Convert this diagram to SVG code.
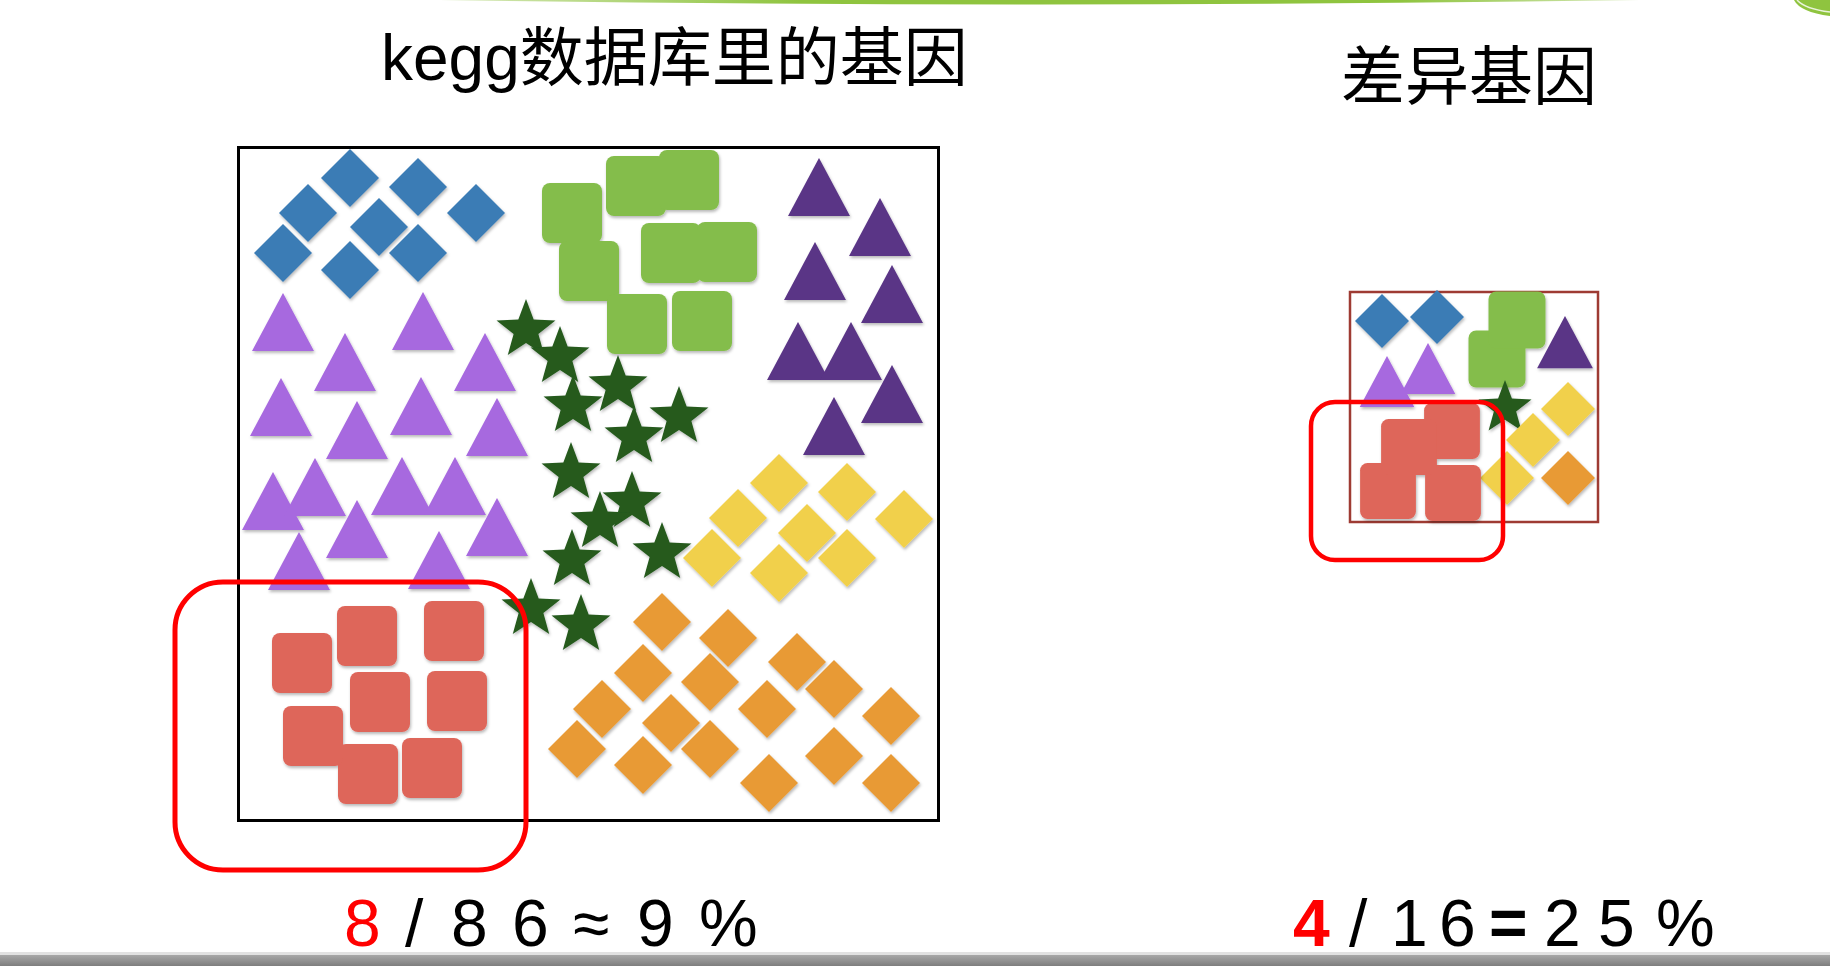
<svg xmlns="http://www.w3.org/2000/svg" xmlns:xlink="http://www.w3.org/1999/xlink" width="1830" height="966" viewBox="0 0 1830 966">
<defs>
<style>
.t{font-family:"Liberation Sans","Noto Sans CJK SC",sans-serif;fill:#000}
.blue{fill:#3b7bb5}.green{fill:#84bd4b}.dp{fill:#5a3486}.lp{fill:#a769df}
.star{fill:#255a1e}.yel{fill:#f1d04b}.ora{fill:#e89a36}.red{fill:#de665a}
.sh{filter:url(#sh)}
</style>
<filter id="sh" x="-20%" y="-20%" width="140%" height="140%">
<feDropShadow dx="1" dy="2" stdDeviation="1.4" flood-color="#000" flood-opacity="0.28"/>
</filter>
<linearGradient id="gb" x1="0" y1="0" x2="0" y2="1"><stop offset="0" stop-color="#a8a8a8"/><stop offset="1" stop-color="#7e7e7e"/></linearGradient>
<linearGradient id="gg" x1="0" y1="0" x2="1" y2="0"><stop offset="0" stop-color="#d6e8b8"/><stop offset="0.3" stop-color="#8fc43f"/><stop offset="0.8" stop-color="#8fc43f"/><stop offset="1" stop-color="#d6e8b8"/></linearGradient>
<polygon id="dia" points="0,-29 29,0 0,29 -29,0"/>
<polygon id="tri" points="0,0 31,58 -31,58"/>
<rect id="sq" x="-30" y="-30" width="60" height="60" rx="8"/>
<polygon id="st" points="0,-31 7.66,-10.53 29.48,-9.58 12.38,4.02 18.22,25.08 0,13.02 -18.22,25.08 -12.38,4.02 -29.48,-9.58 -7.66,-10.53"/>
</defs>
<rect width="1830" height="966" fill="#fff"/>
<g id="decor">
<path d="M440,0 Q1040,9 1640,0 Z" fill="url(#gg)"/>
<path d="M1794,0 Q1800,12 1830,16 L1830,0 Z" fill="#8fc43f"/>
<path d="M1797,0 Q1805,9 1830,12" fill="none" stroke="#e9f3da" stroke-width="1.5"/>
<rect x="0" y="952" width="1830" height="3" fill="#e2e2e2"/>
<rect x="0" y="955" width="1830" height="11" fill="url(#gb)"/>
</g>
<g id="titles">
<text class="t" x="381" y="80" font-size="64">kegg数据库里的基因</text>
<text class="t" x="1341" y="99" font-size="64">差异基因</text>
</g>
<g id="kegg-set">
<rect x="238.5" y="147.5" width="700" height="673" fill="#fff" stroke="#000" stroke-width="3"/>
<g id="blue" class="blue sh">
<use xlink:href="#dia" x="350" y="178"/><use xlink:href="#dia" x="418" y="187"/>
<use xlink:href="#dia" x="308" y="213"/><use xlink:href="#dia" x="379" y="227"/>
<use xlink:href="#dia" x="476" y="213"/><use xlink:href="#dia" x="283" y="253"/>
<use xlink:href="#dia" x="418" y="253"/><use xlink:href="#dia" x="350" y="270"/>
</g>
<g id="green" class="green sh">
<use xlink:href="#sq" x="572" y="213"/><use xlink:href="#sq" x="589" y="271"/>
<use xlink:href="#sq" x="636" y="186"/><use xlink:href="#sq" x="689" y="180"/>
<use xlink:href="#sq" x="671" y="253"/><use xlink:href="#sq" x="727" y="252"/>
<use xlink:href="#sq" x="637" y="324"/><use xlink:href="#sq" x="702" y="321"/>
</g>
<g id="darkpurple" class="dp sh">
<use xlink:href="#tri" x="819" y="158"/><use xlink:href="#tri" x="880" y="198"/>
<use xlink:href="#tri" x="815" y="242"/><use xlink:href="#tri" x="892" y="265"/>
<use xlink:href="#tri" x="798" y="322"/><use xlink:href="#tri" x="851" y="322"/>
<use xlink:href="#tri" x="892" y="365"/><use xlink:href="#tri" x="834" y="397"/>
</g>
<g id="lightpurple" class="lp sh">
<use xlink:href="#tri" x="283" y="293"/><use xlink:href="#tri" x="423" y="292"/>
<use xlink:href="#tri" x="345" y="333"/><use xlink:href="#tri" x="485" y="333"/>
<use xlink:href="#tri" x="281" y="378"/><use xlink:href="#tri" x="421" y="377"/>
<use xlink:href="#tri" x="357" y="401"/><use xlink:href="#tri" x="497" y="398"/>
<use xlink:href="#tri" x="273" y="472"/><use xlink:href="#tri" x="315" y="458"/>
<use xlink:href="#tri" x="402" y="457"/><use xlink:href="#tri" x="455" y="457"/>
<use xlink:href="#tri" x="357" y="500"/><use xlink:href="#tri" x="497" y="498"/>
<use xlink:href="#tri" x="299" y="532"/><use xlink:href="#tri" x="439" y="531"/>
</g>
<g id="stars" class="star sh">
<use xlink:href="#st" x="526" y="330"/><use xlink:href="#st" x="560" y="357"/>
<use xlink:href="#st" x="618" y="386"/><use xlink:href="#st" x="573" y="406"/>
<use xlink:href="#st" x="634" y="437"/><use xlink:href="#st" x="679" y="417"/>
<use xlink:href="#st" x="571" y="473"/><use xlink:href="#st" x="632" y="502"/>
<use xlink:href="#st" x="600" y="522"/><use xlink:href="#st" x="572" y="560"/>
<use xlink:href="#st" x="662" y="553"/><use xlink:href="#st" x="531" y="609"/>
<use xlink:href="#st" x="581" y="625"/>
</g>
<g id="yellow" class="yel sh">
<use xlink:href="#dia" x="779" y="483"/><use xlink:href="#dia" x="847" y="492"/>
<use xlink:href="#dia" x="738" y="518"/><use xlink:href="#dia" x="807" y="533"/>
<use xlink:href="#dia" x="904" y="519"/><use xlink:href="#dia" x="712" y="558"/>
<use xlink:href="#dia" x="847" y="558"/><use xlink:href="#dia" x="779" y="573"/>
</g>
<g id="orange" class="ora sh">
<use xlink:href="#dia" x="662" y="622"/><use xlink:href="#dia" x="728" y="638"/>
<use xlink:href="#dia" x="797" y="662"/><use xlink:href="#dia" x="834" y="689"/>
<use xlink:href="#dia" x="643" y="673"/><use xlink:href="#dia" x="710" y="682"/>
<use xlink:href="#dia" x="602" y="709"/><use xlink:href="#dia" x="767" y="709"/>
<use xlink:href="#dia" x="671" y="723"/><use xlink:href="#dia" x="891" y="716"/>
<use xlink:href="#dia" x="577" y="749"/><use xlink:href="#dia" x="710" y="749"/>
<use xlink:href="#dia" x="643" y="765"/><use xlink:href="#dia" x="834" y="756"/>
<use xlink:href="#dia" x="769" y="783"/><use xlink:href="#dia" x="891" y="783"/>
</g>
<g id="red" class="red sh">
<use xlink:href="#sq" x="302" y="663"/><use xlink:href="#sq" x="367" y="636"/>
<use xlink:href="#sq" x="454" y="631"/><use xlink:href="#sq" x="380" y="702"/>
<use xlink:href="#sq" x="457" y="701"/><use xlink:href="#sq" x="368" y="774"/>
<use xlink:href="#sq" x="313" y="736"/><use xlink:href="#sq" x="432" y="768"/>
</g>
<rect id="kegg-highlight" x="175" y="582" width="351" height="288" rx="48" fill="none" stroke="#ff0000" stroke-width="5"/>
</g>
<g id="deg-set">
<rect x="1350" y="292" width="248" height="230" fill="#fff" stroke="#9e3b33" stroke-width="2.5"/>
<g class="blue sh">
<use xlink:href="#dia" transform="translate(1382,321) scale(0.93)"/>
<use xlink:href="#dia" transform="translate(1437,317) scale(0.93)"/>
</g>
<g class="lp sh">
<use xlink:href="#tri" transform="translate(1428,343) scale(0.88)"/>
<use xlink:href="#tri" transform="translate(1387,356) scale(0.88)"/>
</g>
<g class="green sh">
<use xlink:href="#sq" transform="translate(1497,359) scale(0.95)"/>
<use xlink:href="#sq" transform="translate(1517,320) scale(0.95)"/>
</g>
<g class="dp sh"><use xlink:href="#tri" transform="translate(1565,316) scale(0.9)"/></g>
<g class="star sh"><use xlink:href="#st" transform="translate(1505,408) scale(0.9)"/></g>
<g class="yel sh">
<use xlink:href="#dia" transform="translate(1568,409) scale(0.93)"/>
<use xlink:href="#dia" transform="translate(1533,440) scale(0.93)"/>
<use xlink:href="#dia" transform="translate(1507,478) scale(0.93)"/>
</g>
<g class="ora sh"><use xlink:href="#dia" transform="translate(1568,478) scale(0.93)"/></g>
<g class="red sh">
<use xlink:href="#sq" transform="translate(1452,431) scale(0.93)"/>
<use xlink:href="#sq" transform="translate(1388,491) scale(0.93)"/>
<use xlink:href="#sq" transform="translate(1453,493) scale(0.93)"/>
<use xlink:href="#sq" transform="translate(1409,447) scale(0.93)"/>
</g>
<rect id="deg-highlight" x="1311" y="402" width="192" height="158" rx="24" fill="none" stroke="#ff0000" stroke-width="4.5"/>
</g>
<g id="ratios">
<text class="t" y="946" font-size="66"><tspan x="344" fill="#ff0000">8</tspan> <tspan x="405">/</tspan> <tspan x="451">8</tspan> <tspan x="512">6</tspan> <tspan x="573">≈</tspan> <tspan x="637">9</tspan> <tspan x="699">%</tspan></text>
<text class="t" y="946" font-size="66"><tspan x="1293" fill="#ff0000" font-weight="bold">4</tspan> <tspan x="1349">/</tspan> <tspan x="1391">1</tspan> <tspan x="1439">6</tspan> <tspan x="1489" font-weight="bold">=</tspan> <tspan x="1544">2</tspan> <tspan x="1598">5</tspan> <tspan x="1656">%</tspan></text>
</g>
</svg>
